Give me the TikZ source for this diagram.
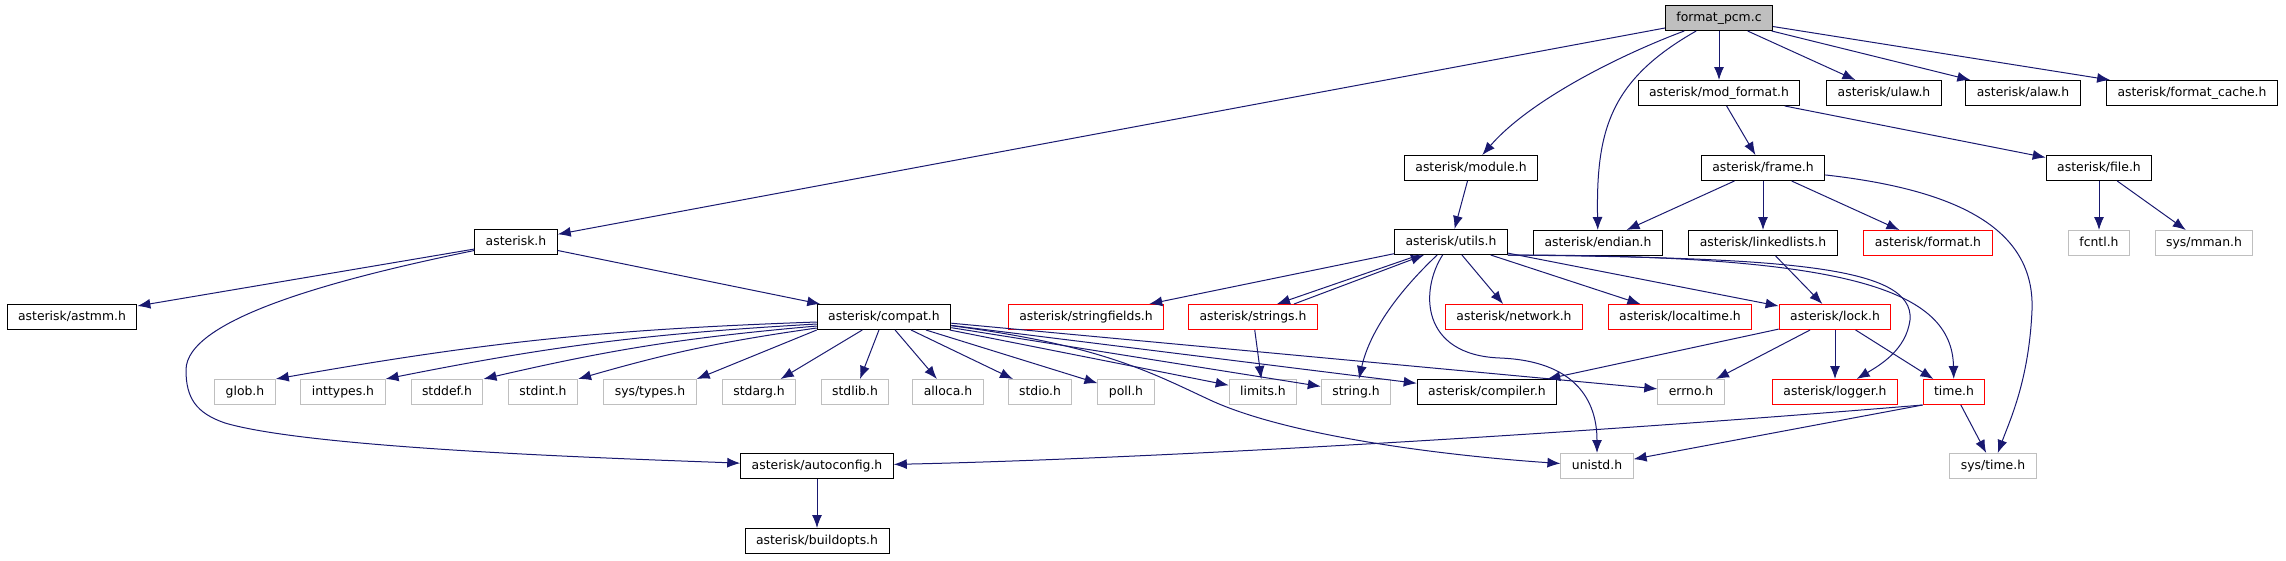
\documentclass[tikz,border=0pt]{standalone}
\usepackage{fontspec}
\setmainfont{DejaVu Sans}
\usetikzlibrary{arrows.meta}
\definecolor{edgeblue}{HTML}{191970}
\definecolor{extgray}{HTML}{BFBFBF}
\definecolor{trunkred}{HTML}{FF0000}
\tikzset{
  box/.style={rectangle, line width=1pt, inner xsep=11pt, inner ysep=0pt,
    minimum height=25pt, text height=9pt, text depth=2.5pt,
    font=\fontsize{12.4}{14}\selectfont},
  main/.style={box, draw=black, fill=extgray},
  doc/.style={box, draw=black, fill=white},
  trunc/.style={box, draw=trunkred, fill=white},
  ext/.style={box, draw=extgray, fill=white},
  dep/.style={edgeblue, line width=1pt, -{Latex[length=13pt,width=10pt]}},
}
\begin{document}
\begin{tikzpicture}[x=1pt,y=-1pt]
  \useasboundingbox (0,0) rectangle (2286,560);
  % top rows
  \node[main] (fpcm) at (1719,18) {format\_pcm.c};
  \node[doc] (modformat) at (1719,93) {asterisk/mod\_format.h};
  \node[doc] (ulaw) at (1884,93) {asterisk/ulaw.h};
  \node[doc] (alaw) at (2023,93) {asterisk/alaw.h};
  \node[doc] (fcache) at (2192,93) {asterisk/format\_cache.h};
  \node[doc] (module) at (1471,168) {asterisk/module.h};
  \node[doc] (frame) at (1763,168) {asterisk/frame.h};
  \node[doc] (file) at (2099,168) {asterisk/file.h};
  \node[doc] (asterisk) at (516,242) {asterisk.h};
  \node[doc] (utils) at (1451,242) {asterisk/utils.h};
  \node[doc] (endian) at (1598,243) {asterisk/endian.h};
  \node[doc] (llists) at (1763,243) {asterisk/linkedlists.h};
  \node[trunc] (format) at (1928,243) {asterisk/format.h};
  \node[ext] (fcntl) at (2099,243) {fcntl.h};
  \node[ext] (mman) at (2204,243) {sys/mman.h};
  \node[doc] (astmm) at (72,317) {asterisk/astmm.h};
  \node[doc] (compat) at (884,317) {asterisk/compat.h};
  \node[trunc] (sfields) at (1086,317) {asterisk/stringfields.h};
  \node[trunc] (strings) at (1253,317) {asterisk/strings.h};
  \node[trunc] (network) at (1514,317) {asterisk/network.h};
  \node[trunc] (ltime) at (1680,317) {asterisk/localtime.h};
  \node[trunc] (lock) at (1835,317) {asterisk/lock.h};
  % system headers
  \node[ext] (glob) at (245,392) {glob.h};
  \node[ext] (inttypes) at (343,392) {inttypes.h};
  \node[ext] (stddef) at (447,392) {stddef.h};
  \node[ext] (stdint) at (543,392) {stdint.h};
  \node[ext] (systypes) at (650,392) {sys/types.h};
  \node[ext] (stdarg) at (759,392) {stdarg.h};
  \node[ext] (stdlib) at (855,392) {stdlib.h};
  \node[ext] (alloca) at (948,392) {alloca.h};
  \node[ext] (stdio) at (1040,392) {stdio.h};
  \node[ext] (poll) at (1126,392) {poll.h};
  \node[ext] (limits) at (1263,392) {limits.h};
  \node[ext] (stringh) at (1356,392) {string.h};
  \node[doc] (compiler) at (1487,392) {asterisk/compiler.h};
  \node[ext] (errno) at (1691,392) {errno.h};
  \node[trunc] (logger) at (1835,392) {asterisk/logger.h};
  \node[trunc] (timeh) at (1954,392) {time.h};
  \node[doc] (autoconf) at (817,466) {asterisk/autoconfig.h};
  \node[ext] (unistd) at (1597,466) {unistd.h};
  \node[ext] (systime) at (1993,466) {sys/time.h};
  \node[doc] (buildopts) at (817,541) {asterisk/buildopts.h};
  % format_pcm.c
  \draw[dep] (fpcm) -- (asterisk);
  \draw[dep] (fpcm) .. controls (1620,55) and (1530,100) .. (module);
  \draw[dep] (fpcm) .. controls (1610,80) and (1596,130) .. (endian);
  \foreach \n in {modformat,ulaw,alaw,fcache}
    \draw[dep] (fpcm) -- (\n);
  \draw[dep] (modformat) -- (frame);
  \draw[dep] (modformat) -- (file);
  \draw[dep] (module) -- (utils);
  \foreach \n in {endian,llists,format}
    \draw[dep] (frame) -- (\n);
  \draw[dep] (frame) .. controls (1960,190) and (2035,230) .. (2032,310)
    .. controls (2029,380) and (2010,420) .. (systime);
  \foreach \n in {fcntl,mman}
    \draw[dep] (file) -- (\n);
  \draw[dep] (llists) -- (lock);
  % asterisk.h
  \draw[dep] (asterisk) -- (astmm);
  \draw[dep] (asterisk) -- (compat);
  \draw[dep] (asterisk) .. controls (330,280) and (186,320) .. (186,370)
    .. controls (186,398) and (196,413) .. (225,423)
    .. controls (310,448) and (600,458) .. (autoconf);
  % utils.h
  \draw[dep] (utils) -- (sfields);
  \draw[dep] ([xshift=-32pt]utils.south) -- ([xshift=24pt]strings.north);
  \draw[dep] ([xshift=41pt]strings.north) -- ([xshift=-27pt]utils.south);
  \draw[dep] (utils) .. controls (1400,290) and (1370,330) .. (stringh);
  \draw[dep] (utils) .. controls (1420,290) and (1420,355) .. (1500,358)
    .. controls (1575,361) and (1597,400) .. (unistd);
  \foreach \n in {network,ltime,lock}
    \draw[dep] (utils) -- (\n);
  \draw[dep] (utils.south east) .. controls (1780,258) and (1915,265) .. (1910,320)
    .. controls (1906,350) and (1880,365) .. (logger);
  \draw[dep] (utils.south east) .. controls (1850,255) and (1952,290) .. (timeh);
  \draw[dep] (strings) -- (limits);
  % compat.h
  \foreach \n/\s in {glob/5,inttypes/7,stddef/9,stdint/11}
    \draw[dep] ([yshift=-\s pt]compat.west) to[bend right=4] (\n.north east);
  \draw[dep] (compat.south west) -- (systypes.north east);
  \foreach \n in {stdarg,stdlib,alloca,stdio,poll,limits,stringh,compiler,errno}
    \draw[dep] (compat) -- (\n);
  \draw[dep] (compat) .. controls (1100,345) and (1150,372) .. (1210,400)
    .. controls (1290,437) and (1450,456) .. (unistd);
  % lock.h, time.h
  \foreach \n in {compiler,errno,logger,timeh}
    \draw[dep] (lock) -- (\n);
  \draw[dep] (timeh.south west) .. controls (1500,440) and (1100,460) .. (autoconf);
  \draw[dep] (timeh.south west) -- (unistd);
  \draw[dep] (timeh) -- (systime);
  \draw[dep] (autoconf) -- (buildopts);
\end{tikzpicture}
\end{document}
